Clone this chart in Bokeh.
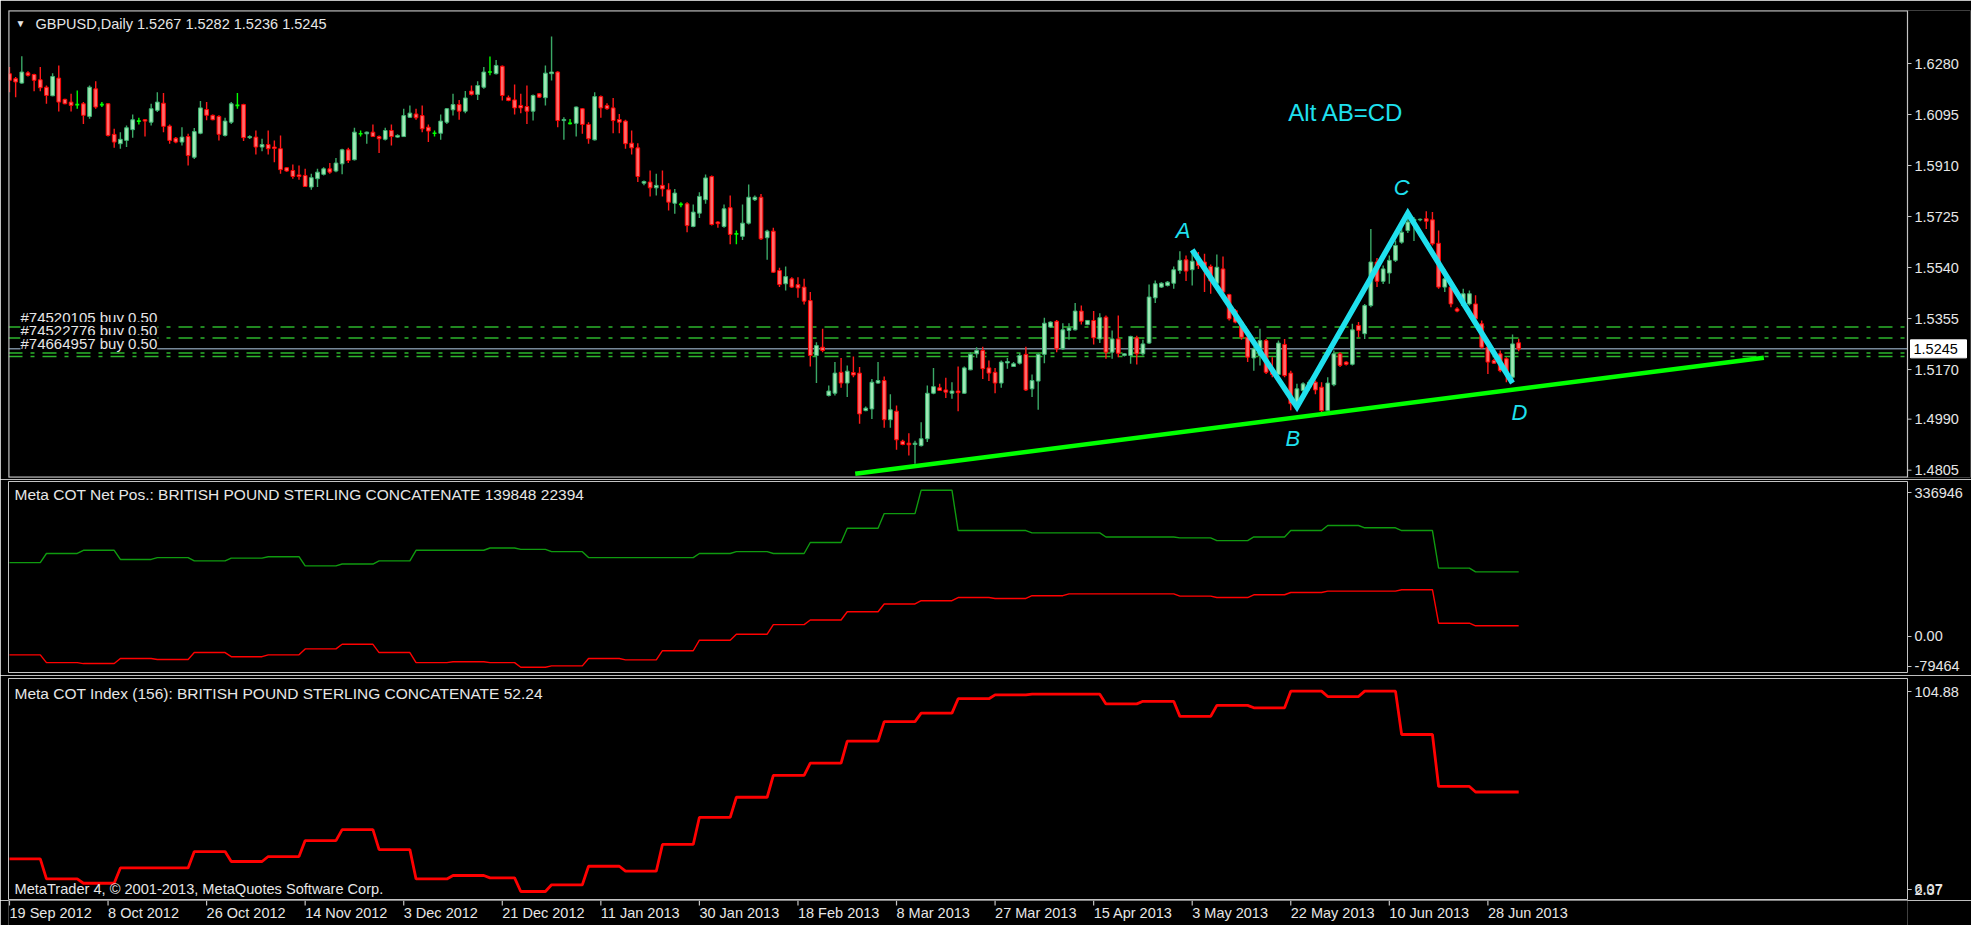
import datetime as dt
import numpy as np
from bokeh.plotting import figure
from bokeh.layouts import column
from bokeh.models import Range1d, FixedTicker, Label, ColumnDataSource
from bokeh.core.properties import value
from bokeh.embed import file_html
from bokeh.resources import INLINE

# ---------------- data ----------------
symbol = "GBPUSD,Daily"
first_day = dt.date(2012, 9, 19)
holidays = [dt.date(2012, 12, 25), dt.date(2013, 1, 1)]

open_ = [1.6243,1.6225,1.6209,1.6246,1.6240,1.6221,1.6194,1.6163,1.6227,1.6150,
 1.6140,1.6131,1.6134,1.6088,1.6188,1.6131,1.6134,1.6023,1.5989,1.6001,
 1.6040,1.6071,1.6076,1.6067,1.6110,1.6136,1.6053,1.6009,1.5995,1.6015,
 1.5940,1.6027,1.6113,1.6092,1.6088,1.6019,1.6067,1.6128,1.6131,1.6011,
 1.6013,1.5977,1.5986,1.5977,1.5971,1.5902,1.5892,1.5876,1.5874,1.5832,
 1.5862,1.5878,1.5898,1.5890,1.5916,1.5967,1.5931,1.6025,1.6025,1.6031,
 1.6015,1.6005,1.6037,1.6013,1.6015,1.6085,1.6097,1.6091,1.6049,1.6027,
 1.6027,1.6067,1.6112,1.6131,1.6107,1.6180,1.6168,1.6194,1.6249,1.6243,
 1.6270,1.6156,1.6148,1.6128,1.6124,1.6107,1.6170,1.6156,1.6243,1.6249,
 1.6073,1.6063,1.6063,1.6116,1.6059,1.6003,1.6160,1.6128,1.6119,1.6077,
 1.6071,1.5991,1.5974,1.5846,1.5850,1.5829,1.5838,1.5822,1.5773,1.5769,
 1.5771,1.5689,1.5737,1.5786,1.5870,1.5705,1.5689,1.5757,1.5662,1.5653,
 1.5701,1.5786,1.5795,1.5648,1.5672,1.5529,1.5481,1.5499,1.5478,1.5469,
 1.5420,1.5221,1.5251,1.5076,1.5084,1.5160,1.5121,1.5159,1.5157,1.5021,
 1.5027,1.5121,1.5130,1.4988,1.5019,1.4910,1.4903,1.4898,1.4894,1.4919,
 1.5084,1.5104,1.5096,1.5084,1.5092,1.5084,1.5169,1.5227,1.5239,1.5176,
 1.5160,1.5121,1.5194,1.5181,1.5193,1.5225,1.5100,1.5128,1.5225,1.5324,
 1.5345,1.5245,1.5312,1.5314,1.5382,1.5333,1.5348,1.5281,1.5360,1.5233,
 1.5281,1.5221,1.5221,1.5285,1.5227,1.5266,1.5430,1.5469,1.5475,1.5483,
 1.5529,1.5568,1.5532,1.5572,1.5560,1.5544,1.5483,1.5535,1.5442,1.5384,
 1.5342,1.5287,1.5212,1.5221,1.5275,1.5166,1.5152,1.5261,1.5157,1.5040,
 1.5094,1.5106,1.5124,1.5106,1.5021,1.5115,1.5227,1.5197,1.5189,1.5330,
 1.5300,1.5402,1.5560,1.5490,1.5520,1.5566,1.5632,1.5674,1.5708,1.5713,
 1.5717,1.5713,1.5628,1.5469,1.5469,1.5390,1.5402,1.5408,1.5408,1.5336,
 1.5251,1.5203,1.5227,1.5209,1.5142,1.5267]
high_ = [1.6267,1.6231,1.6306,1.6252,1.6243,1.6267,1.6200,1.6245,1.6273,1.6152,
 1.6170,1.6182,1.6140,1.6200,1.6216,1.6140,1.6136,1.6043,1.6031,1.6055,
 1.6095,1.6083,1.6078,1.6134,1.6176,1.6173,1.6059,1.6013,1.6049,1.6025,
 1.6046,1.6144,1.6140,1.6095,1.6092,1.6083,1.6140,1.6173,1.6134,1.6020,
 1.6037,1.6007,1.6037,1.6001,1.6019,1.5904,1.5914,1.5910,1.5898,1.5880,
 1.5898,1.5904,1.5919,1.5937,1.5971,1.5974,1.6047,1.6037,1.6033,1.6059,
 1.6019,1.6047,1.6059,1.6023,1.6116,1.6128,1.6116,1.6128,1.6059,1.6037,
 1.6095,1.6119,1.6170,1.6148,1.6180,1.6200,1.6216,1.6267,1.6305,1.6293,
 1.6273,1.6164,1.6204,1.6170,1.6200,1.6168,1.6172,1.6273,1.6378,1.6252,
 1.6085,1.6079,1.6124,1.6119,1.6067,1.6176,1.6164,1.6136,1.6155,1.6097,
 1.6076,1.6037,1.5991,1.5856,1.5892,1.5880,1.5892,1.5846,1.5825,1.5777,
 1.5777,1.5769,1.5813,1.5877,1.5874,1.5708,1.5769,1.5801,1.5674,1.5769,
 1.5841,1.5801,1.5807,1.5677,1.5684,1.5539,1.5544,1.5505,1.5505,1.5499,
 1.5451,1.5269,1.5318,1.5112,1.5197,1.5212,1.5185,1.5217,1.5179,1.5036,
 1.5136,1.5197,1.5145,1.5080,1.5040,1.4915,1.4939,1.4912,1.4979,1.5112,
 1.5176,1.5118,1.5140,1.5124,1.5181,1.5181,1.5233,1.5251,1.5253,1.5203,
 1.5176,1.5203,1.5212,1.5197,1.5229,1.5253,1.5152,1.5229,1.5358,1.5345,
 1.5350,1.5338,1.5338,1.5411,1.5402,1.5350,1.5382,1.5374,1.5366,1.5312,
 1.5366,1.5229,1.5293,1.5293,1.5278,1.5478,1.5493,1.5487,1.5491,1.5544,
 1.5599,1.5584,1.5604,1.5596,1.5590,1.5551,1.5587,1.5580,1.5445,1.5390,
 1.5348,1.5299,1.5251,1.5318,1.5281,1.5215,1.5275,1.5281,1.5166,1.5118,
 1.5124,1.5133,1.5130,1.5124,1.5142,1.5239,1.5233,1.5200,1.5336,1.5342,
 1.5408,1.5680,1.5575,1.5547,1.5584,1.5638,1.5686,1.5735,1.5723,1.5718,
 1.5744,1.5741,1.5674,1.5535,1.5493,1.5396,1.5463,1.5457,1.5439,1.5348,
 1.5257,1.5209,1.5239,1.5215,1.5297,1.5282]
low_ = [1.6176,1.6158,1.6207,1.6233,1.6179,1.6179,1.6134,1.6161,1.6106,1.6132,
 1.6106,1.6116,1.6061,1.6080,1.6116,1.6122,1.6015,1.5974,1.5971,1.5977,
 1.6011,1.6059,1.6015,1.6055,1.6104,1.6031,1.5989,1.5991,1.5983,1.5910,
 1.5934,1.6023,1.6074,1.6074,1.6001,1.6015,1.6061,1.6116,1.5999,1.6006,
 1.5950,1.5962,1.5950,1.5922,1.5880,1.5887,1.5862,1.5858,1.5832,1.5822,
 1.5832,1.5874,1.5880,1.5886,1.5878,1.5919,1.5928,1.6015,1.5989,1.6013,
 1.5955,1.6001,1.5983,1.6011,1.6013,1.6083,1.6076,1.6031,1.5995,1.6015,
 1.6003,1.6061,1.6091,1.6076,1.6100,1.6164,1.6148,1.6188,1.6237,1.6240,
 1.6146,1.6143,1.6095,1.6100,1.6061,1.6073,1.6156,1.6128,1.6218,1.6049,
 1.6003,1.6059,1.6015,1.6025,1.5989,1.6001,1.6083,1.6112,1.6027,1.6027,
 1.5971,1.5950,1.5850,1.5838,1.5798,1.5801,1.5798,1.5747,1.5735,1.5759,
 1.5668,1.5686,1.5720,1.5771,1.5692,1.5684,1.5684,1.5624,1.5624,1.5640,
 1.5696,1.5781,1.5640,1.5568,1.5520,1.5469,1.5457,1.5466,1.5430,1.5406,
 1.5181,1.5121,1.5233,1.5072,1.5076,1.5104,1.5070,1.5142,1.4973,1.5019,
 1.4991,1.5118,1.4959,1.4959,1.4879,1.4895,1.4858,1.4828,1.4891,1.4907,
 1.5080,1.5092,1.5067,1.5064,1.5019,1.5082,1.5167,1.5213,1.5136,1.5128,
 1.5084,1.5104,1.5173,1.5179,1.5188,1.5092,1.5070,1.5024,1.5193,1.5321,
 1.5233,1.5241,1.5278,1.5312,1.5333,1.5331,1.5261,1.5266,1.5209,1.5209,
 1.5215,1.5217,1.5191,1.5188,1.5221,1.5263,1.5411,1.5466,1.5471,1.5463,
 1.5517,1.5491,1.5475,1.5535,1.5451,1.5445,1.5457,1.5442,1.5348,1.5338,
 1.5278,1.5197,1.5166,1.5185,1.5154,1.5142,1.5148,1.5142,1.5022,1.5024,
 1.5088,1.5094,1.5080,1.5015,1.5019,1.5109,1.5179,1.5185,1.5185,1.5287,
 1.5281,1.5396,1.5469,1.5480,1.5481,1.5560,1.5626,1.5665,1.5636,1.5708,
 1.5680,1.5620,1.5463,1.5451,1.5396,1.5378,1.5396,1.5402,1.5342,1.5245,
 1.5154,1.5191,1.5160,1.5124,1.5124,1.5236]
close_ = [1.6219,1.6213,1.6249,1.6237,1.6219,1.6192,1.6164,1.6233,1.6140,1.6134,
 1.6128,1.6131,1.6092,1.6194,1.6122,1.6131,1.6019,1.5995,1.6005,1.6047,
 1.6076,1.6071,1.6071,1.6116,1.6140,1.6052,1.6001,1.5995,1.6013,1.5946,
 1.6033,1.6119,1.6092,1.6076,1.6023,1.6071,1.6134,1.6128,1.6011,1.6015,
 1.5977,1.5986,1.5971,1.5972,1.5895,1.5890,1.5870,1.5870,1.5834,1.5866,
 1.5886,1.5898,1.5886,1.5919,1.5967,1.5928,1.6031,1.6025,1.6031,1.6015,
 1.6007,1.6037,1.6015,1.6019,1.6091,1.6100,1.6083,1.6043,1.6035,1.6027,
 1.6071,1.6116,1.6131,1.6107,1.6155,1.6168,1.6200,1.6249,1.6249,1.6273,
 1.6164,1.6146,1.6119,1.6119,1.6107,1.6164,1.6158,1.6245,1.6249,1.6073,
 1.6077,1.6063,1.6122,1.6059,1.6007,1.6160,1.6119,1.6116,1.6073,1.6067,
 1.5989,1.5974,1.5870,1.5852,1.5829,1.5838,1.5825,1.5777,1.5810,1.5769,
 1.5692,1.5741,1.5798,1.5865,1.5696,1.5699,1.5753,1.5660,1.5662,1.5701,
 1.5795,1.5795,1.5644,1.5672,1.5523,1.5478,1.5507,1.5469,1.5466,1.5418,
 1.5221,1.5257,1.5239,1.5092,1.5157,1.5121,1.5164,1.5150,1.5009,1.5030,
 1.5124,1.5130,1.4988,1.5024,1.4915,1.4898,1.4897,1.4903,1.4919,1.5084,
 1.5108,1.5094,1.5088,1.5092,1.5086,1.5176,1.5225,1.5239,1.5173,1.5157,
 1.5121,1.5197,1.5199,1.5191,1.5221,1.5096,1.5130,1.5225,1.5338,1.5342,
 1.5245,1.5314,1.5321,1.5382,1.5345,1.5348,1.5285,1.5358,1.5233,1.5281,
 1.5229,1.5227,1.5290,1.5227,1.5263,1.5433,1.5481,1.5483,1.5487,1.5532,
 1.5566,1.5527,1.5563,1.5547,1.5535,1.5491,1.5541,1.5451,1.5354,1.5342,
 1.5287,1.5215,1.5245,1.5275,1.5160,1.5152,1.5266,1.5148,1.5046,1.5100,
 1.5118,1.5124,1.5096,1.5021,1.5121,1.5227,1.5185,1.5189,1.5314,1.5312,
 1.5402,1.5560,1.5490,1.5535,1.5566,1.5620,1.5668,1.5705,1.5715,1.5715,
 1.5708,1.5626,1.5469,1.5499,1.5408,1.5382,1.5445,1.5445,1.5354,1.5251,
 1.5197,1.5193,1.5166,1.5154,1.5263,1.5245]

# weekly COT values (one per week, each week starting on a Wednesday)
cot_net_green = [160000,180000,187000,167000,171000,164000,170000,173000,153000,157000,
 164000,187000,187000,192000,189000,184000,171000,171000,171000,180000,
 184000,180000,204000,235000,267000,318000,230000,230000,225000,225000,
 216000,216000,214000,208000,216000,230000,241000,236000,230000,148000,
 139848,139848]
cot_net_red = [-41000,-58000,-60000,-49000,-51000,-36000,-45000,-41000,-28000,-18000,
 -36000,-58000,-56000,-58000,-68000,-65000,-49000,-52000,-32000,-9000,
 4000,25000,35000,53000,70000,77000,84000,82000,88000,92000,
 92000,92000,87000,84000,90000,95000,98000,98000,101000,28000,
 22394,22394]
cot_index = [21.2,11.9,9.9,17.0,17.0,24.6,20.0,22.3,29.7,34.8,
 25.5,11.9,13.5,12.4,6.07,9.2,17.8,15.5,27.9,40.5,
 49.8,59.9,65.6,75.8,84.9,88.8,95.5,97.3,97.6,97.6,
 93.1,94.3,87.3,92.4,91.3,99.0,96.5,99.0,78.9,54.8,
 52.24,52.24]

price_tick_labels = ["1.6280","1.6095","1.5910","1.5725","1.5540","1.5355","1.5170","1.4990","1.4805"]
net_axis_labels = ["336946", "0.00", "-79464"]
index_axis_labels = ["104.88", "2.37", "6.07"]
net_range = (-79464, 336946)
index_range = (2.37, 104.88)

bid = 1.5245
order_names = ["#74520105 buy 0.50", "#74522776 buy 0.50", "#74664957 buy 0.50"]
order_line_prices = [1.5324, 1.5284, 1.5230, 1.5217]

trend_x = [137.3, 284.8]
trend_y = [1.4792, 1.5213]
abcd_bars = [192, 209, 227, 244]
abcd_prices = [1.5604, 1.5034, 1.5737, 1.5121]
abcd_names = ["A", "B", "C", "D"]
pattern_title = "Alt AB=CD"
pattern_title_pos = (207.6, 1.6103)

# ---------------- layout / style ----------------
FONT = "Liberation Sans"
FG = "#e6e6e6"
FRAME = "#c4c4c4"
CYAN = "#1fe0ee"
W = 1971
LEFT = 8
RIGHT = 64
PANEL_W = W - LEFT - RIGHT          # width of each MT4 window
BAR_PX = 6.16
X0 = -0.16
X_EDGE = X0 + PANEL_W / BAR_PX
MAIN_FH, MID_FH, BOT_FH = 467, 191, 221
PP = 0.0003627                      # price per pixel in the main window
Y_TOP = 1.6280 + 53 * PP
Y_BOT = Y_TOP - MAIN_FH * PP

n = min(len(open_), len(high_), len(low_), len(close_))
o = np.array(open_[:n]); h = np.array(high_[:n]); l = np.array(low_[:n]); c = np.array(close_[:n])
x = np.arange(n)

dates = []
d = first_day
while len(dates) < n:
    if d.weekday() != 5 and d not in holidays:
        dates.append(d)
    d += dt.timedelta(days=1)
week = [(dd - first_day).days // 7 for dd in dates]


def xpx(px):
    return X0 + px / BAR_PX


def ypx(rng, fh, px):
    return rng[1] - px * (rng[1] - rng[0]) / fh


def style_yaxis(ax):
    ax.axis_line_color = None
    ax.major_tick_line_color = FRAME
    ax.major_tick_out = 4
    ax.major_tick_in = 0
    ax.minor_tick_line_color = None
    ax.major_label_text_color = FG
    ax.major_label_text_font = FONT
    ax.major_label_text_font_size = "14.5px"
    ax.major_label_standoff = 3


def lbl(p, xv, yv, text, color=FG, size="14.5px", align="left", **kw):
    p.add_layout(Label(x=xv, y=yv, text=text, text_color=color, text_font=FONT,
                       text_font_size=size, text_align=align, text_baseline="middle", **kw))


# ---------------- main price window (price scale drawn inside the canvas) ----------------
p1 = figure(width=W, height=MAIN_FH + 12, x_range=Range1d(X0, X0 + (W - LEFT - 1) / BAR_PX),
            y_range=Range1d(Y_BOT, Y_TOP), output_backend="svg", toolbar_location=None,
            background_fill_color="black", border_fill_color="black",
            min_border_left=LEFT, min_border_right=1, min_border_top=10, min_border_bottom=2,
            x_axis_location=None, y_axis_location=None)
p1.frame_align = False
p1.outline_line_color = None
p1.grid.visible = False

# order lines and bid line (behind the candles)
for pr in order_line_prices:
    p1.segment(X0, pr, X_EDGE, pr, line_color="#2db52d", line_width=1.5, line_dash="14 8 4 8")
p1.segment(X0, bid, X_EDGE, bid, line_color="#778899", line_width=1.5)

up = c > o
dn = c < o
dj = c == o
wick_col = np.where(up, "#3aa866", np.where(dn, "#ff1a1a", "#00ff00"))
p1.segment(x, h, x, l, color=list(wick_col), line_width=1.4)
body = ColumnDataSource(dict(x=x[~dj], top=np.maximum(o, c)[~dj], bot=np.minimum(o, c)[~dj],
                             fill=list(np.where(up[~dj], "#9de8b4", "#ff6a6a")),
                             line=list(np.where(up[~dj], "#3cb371", "#ff0000"))))
p1.vbar(x="x", width=0.6, top="top", bottom="bot", fill_color="fill",
        line_color="line", line_width=1, source=body)
p1.segment(x[dj] - 0.32, o[dj], x[dj] + 0.32, o[dj], color="#00ff00", line_width=1.6)

p1.line(trend_x, trend_y, line_color="#00ff00", line_width=4.5)
p1.line(abcd_bars, abcd_prices, line_color=CYAN, line_width=5.5, line_join="miter")

offs = [(-9, 19), (-4, -31), (-6, 26), (7, -29)]
lx = [b + dx / BAR_PX for b, (dx, dy) in zip(abcd_bars, offs)]
ly = [pr + dy * PP for pr, (dx, dy) in zip(abcd_prices, offs)]
p1.text(lx, ly, text=abcd_names, text_font=value(FONT), text_font_style="italic",
        text_font_size="22px", text_color=CYAN, text_align="center", text_baseline="middle")
lbl(p1, pattern_title_pos[0], pattern_title_pos[1], pattern_title, color=CYAN, size="24px")

lbl(p1, xpx(7), ypx((Y_BOT, Y_TOP), MAIN_FH, 13), "\u25bc", size="10px")
lbl(p1, xpx(27), ypx((Y_BOT, Y_TOP), MAIN_FH, 13),
    f"{symbol}  {o[-1]:.4f} {h[-1]:.4f} {l[-1]:.4f} {c[-1]:.4f}")
for k, name in enumerate(order_names):
    lbl(p1, xpx(12), ypx((Y_BOT, Y_TOP), MAIN_FH, 307 + 13 * k), name, size="15px",
        background_fill_color="black")

# window border
p1.line([X_EDGE, X0, X0, X_EDGE], [Y_TOP, Y_TOP, Y_BOT, Y_BOT], line_color=FRAME, line_width=2)
p1.segment(X_EDGE, Y_BOT, X_EDGE, Y_TOP, line_color=FRAME, line_width=1.2)

# price scale
pt = [float(s) for s in price_tick_labels]
p1.segment([X_EDGE] * len(pt), pt, [X_EDGE + 4 / BAR_PX] * len(pt), pt, line_color=FRAME, line_width=1)
p1.text([X_EDGE + 7 / BAR_PX] * len(pt), pt, text=price_tick_labels, text_font=value(FONT),
        text_font_size="14.5px", text_color=FG, text_align="left", text_baseline="middle")
p1.rect(X_EDGE + 31 / BAR_PX, bid, width=56, height=18, width_units="screen", height_units="screen",
        fill_color="white", line_color="white")
p1.text([X_EDGE + 6 / BAR_PX], [bid], text=[f"{bid:.4f}"], text_font=value(FONT),
        text_font_size="14.5px", text_color="black", text_align="left", text_baseline="middle")

# ---------------- shared x range for indicator windows ----------------
xr = Range1d(X0, X_EDGE)


def ind_fig(height, top, bottom, yr):
    p = figure(width=W, height=height, x_range=xr, y_range=Range1d(*yr),
               output_backend="svg", toolbar_location=None,
               background_fill_color="black", border_fill_color="black",
               min_border_left=LEFT, min_border_right=RIGHT,
               min_border_top=top, min_border_bottom=bottom,
               y_axis_location="right", x_axis_location=None)
    p.outline_line_color = FRAME
    p.outline_line_width = 1
    p.grid.visible = False
    style_yaxis(p.yaxis[0])
    return p


# ---------------- COT net positions ----------------
p2 = ind_fig(MID_FH + 5, 2, 3, net_range)
nt = [round(ypx(net_range, MID_FH, 11)), 0, round(ypx(net_range, MID_FH, 184.5))]
p2.yaxis[0].ticker = FixedTicker(ticks=nt)
p2.yaxis[0].major_label_overrides = {v: s for v, s in zip(nt, net_axis_labels)}
g = [cot_net_green[w] for w in week]
r = [cot_net_red[w] for w in week]
p2.line(x, g, line_color="#0f9a0f", line_width=1.4)
p2.line(x, r, line_color="#ff0000", line_width=1.4)
lbl(p2, xpx(6), ypx(net_range, MID_FH, 13),
    f"Meta COT Net Pos.: BRITISH POUND STERLING CONCATENATE {cot_net_green[-1]} {cot_net_red[-1]}",
    size="15.5px")

# ---------------- COT index ----------------
p3 = ind_fig(BOT_FH + 4, 3, 1, index_range)
it = [round(ypx(index_range, BOT_FH, 13), 3), round(ypx(index_range, BOT_FH, 211), 3),
      round(ypx(index_range, BOT_FH, 211), 3) + 0.01]
p3.yaxis[0].ticker = FixedTicker(ticks=it)
p3.yaxis[0].major_label_overrides = {v: s for v, s in zip(it, index_axis_labels)}
ci = [cot_index[w] for w in week]
p3.line(x, ci, line_color="#ff0000", line_width=2.8)
lbl(p3, xpx(6), ypx(index_range, BOT_FH, 15),
    f"Meta COT Index (156): BRITISH POUND STERLING CONCATENATE {cot_index[-1]:.2f}", size="15.5px")
lbl(p3, xpx(6), ypx(index_range, BOT_FH, 210),
    "MetaTrader 4, \u00a9 2001-2013, MetaQuotes Software Corp.", size="14.6px")

# ---------------- time scale strip (MT4 writes each date to the right of its tick) ----------------
STRIP_H = 25
p4 = figure(width=W, height=STRIP_H, x_range=xr, y_range=Range1d(0, STRIP_H),
            output_backend="svg", toolbar_location=None,
            background_fill_color="black", border_fill_color="black",
            min_border_left=LEFT, min_border_right=RIGHT, min_border_top=0, min_border_bottom=0,
            x_axis_location=None, y_axis_location=None)
p4.outline_line_color = None
p4.grid.visible = False
xt = list(range(0, n, 16))
p4.segment(xt, [STRIP_H] * len(xt), xt, [STRIP_H - 5] * len(xt), line_color=FRAME, line_width=1.2)
date_labels = [f"{dates[i].day} {dates[i].strftime('%b %Y')}" for i in xt]
p4.text(xt, [STRIP_H - 12.5] * len(xt), text=date_labels, text_font=value(FONT),
        text_font_size="14.5px", text_color=FG, text_align="left", text_baseline="middle")

layout = column(p1, p2, p3, p4, spacing=0)
open("out.html", "w").write(file_html(layout, INLINE, title="GBPUSD Daily"))
